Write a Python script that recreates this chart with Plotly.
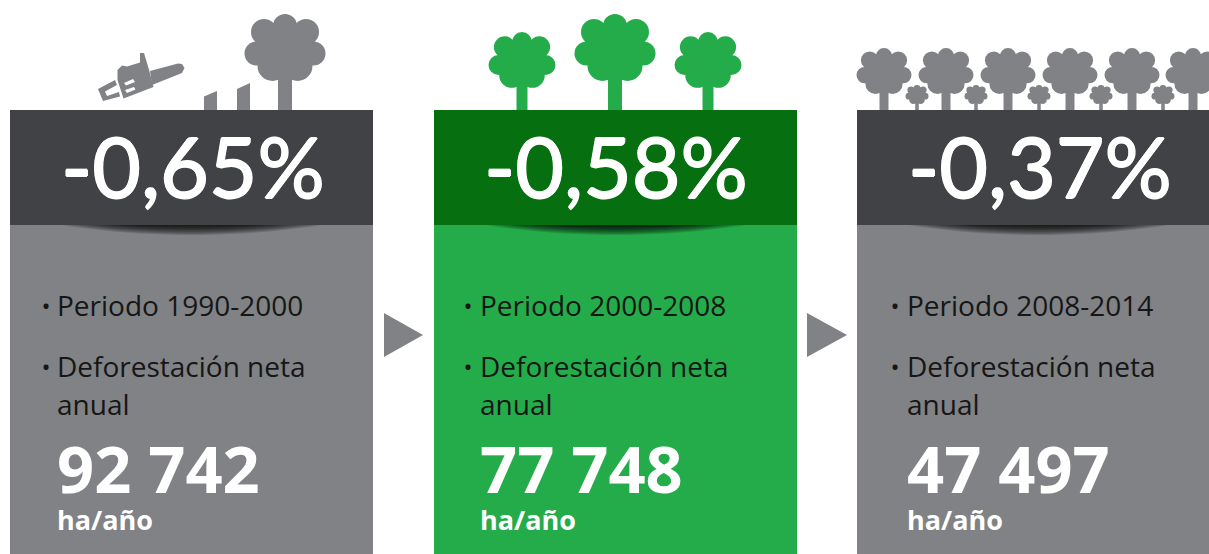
import plotly.graph_objects as go

# ---- data ----
percentages = ["-0,65%", "-0,58%", "-0,37%"]
periods = ["Periodo 1990-2000", "Periodo 2000-2008", "Periodo 2008-2014"]
net_label = ["Deforestación neta", "anual"]
hectares = ["92 742", "77 748", "47 497"]
unit = "ha/año"

# ---- style ----
GRAY = "#808285"
DARK = "#414245"
GREEN = "#25AC4A"
DKGREEN = "#067011"
INK = "#161616"
FONT = "Lato"
BODY = "Open Sans"

panel_left = [10, 434, 857]
panel_right = [373, 797, 1209]
panel_fill = [GRAY, GREEN, GRAY]
head_fill = [DARK, DKGREEN, DARK]
pct_x = [193, 616, 1040]
text_x = [57, 480, 907]
bullet_x = [46, 468, 895]

shapes = []


def rect(x0, y0, x1, y1, color):
    shapes.append(dict(type="rect", x0=x0, y0=y0, x1=x1, y1=y1, fillcolor=color, line_width=0, layer="below"))


def poly(points, color, opacity=1):
    path = "M " + " L ".join(f"{x},{y}" for x, y in points) + " Z"
    shapes.append(dict(type="path", path=path, fillcolor=color, line_width=0, opacity=opacity, layer="below"))


def circle(cx, cy, r, color):
    shapes.append(dict(type="circle", x0=cx - r, x1=cx + r, y0=cy - r, y1=cy + r,
                       fillcolor=color, line_width=0, layer="below"))


# lobes of a tree crown, in units of an 81 px wide, 67 px tall crown
LOBES = [(0, -21.5, 12), (-21, -15.5, 13), (21, -15.5, 13), (-28.5, 6, 12), (28.5, 6, 12),
         (-12.5, 18.5, 15), (12.5, 18.5, 15), (0, 0, 27)]


def tree(cx, top, crown_w, crown_h, trunk_w, base, color):
    s = crown_w / 81
    v = crown_h / 67
    rect(cx - trunk_w / 2, top + crown_h * 0.7, cx + trunk_w / 2, base, color)
    cy = top + crown_h / 2
    for dx, dy, r in LOBES:
        circle(cx + dx * s, cy + dy * v, r * s, color)


# trees, panel 1
tree(285, 14, 81, 67, 14, 110, GRAY)
poly([(204, 96.5), (217, 91), (217, 110), (204, 110)], GRAY)
poly([(237, 89), (250, 83), (250, 110), (237, 110)], GRAY)

# chainsaw
poly([(117.5, 70), (122, 65.5), (127, 66.5), (140, 62.5), (140, 53), (144, 53), (147, 63), (148.5, 68),
      (153.5, 87), (123.5, 98.5), (117.5, 80)], GRAY)
poly([(150, 71), (178, 63.5), (182, 64), (184.5, 68), (182, 73), (152, 85)], GRAY)
poly([(98, 89), (115, 80), (117, 85), (105, 91.5), (107, 96), (119, 92), (120, 96.5), (103, 101)], GRAY)
poly([(124, 83), (133, 79), (135, 82), (126, 85.5)], "#ffffff")
poly([(125, 90), (134, 87), (135.5, 89.5), (127, 93)], "#ffffff")

# trees, panel 2
tree(522, 32, 67, 56, 11, 110, GREEN)
tree(615, 14, 81, 67, 14, 110, GREEN)
tree(708, 32, 67, 56, 11, 110, GREEN)

# trees, panel 3
for cx in [884, 946, 1008, 1070, 1132, 1193]:
    tree(cx, 48, 55, 46, 9, 110, GRAY)
for cx in [917, 976, 1039, 1101, 1163]:
    tree(cx, 85, 23, 19, 3.5, 110, GRAY)

# panels
for i in range(3):
    rect(panel_left[i], 110, panel_right[i], 225, head_fill[i])
    rect(panel_left[i], 225, panel_right[i], 554, panel_fill[i])

# soft shadow below each header
for i in range(3):
    cx = panel_left[i] + 181.5
    steps = 9
    for k in range(steps):
        hw = 130 * (1 - k / steps * 0.55)
        h = 10 * (1 - k / steps)
        pts = [(cx - hw, 225)]
        pts += [(cx + hw * j / 10, 225 + h * (1 - (j / 10) ** 2)) for j in range(-9, 10)]
        pts += [(cx + hw, 225)]
        poly(pts, "#000000", 0.15)

# arrows
poly([(384, 313), (423, 335), (384, 357)], GRAY)
poly([(807, 313), (847, 335), (807, 357)], GRAY)

fig = go.Figure()

BOLDEN = "0.8px 0 0 #fff, -0.8px 0 0 #fff, 0 0.8px 0 #fff, 0 -0.8px 0 #fff"
fig.add_trace(go.Scatter(x=pct_x, y=[177] * 3, mode="text", text=percentages, hoverinfo="skip",
                         textposition="middle center",
                         textfont=dict(family=FONT, size=84, color="#ffffff", shadow=BOLDEN)))
fig.add_trace(go.Scatter(x=text_x, y=[308.5] * 3, mode="text", text=periods, hoverinfo="skip",
                         textposition="middle right",
                         textfont=dict(family=BODY, size=28, color=INK)))
fig.add_trace(go.Scatter(x=text_x, y=[369.5] * 3, mode="text", text=[net_label[0]] * 3, hoverinfo="skip",
                         textposition="middle right",
                         textfont=dict(family=BODY, size=28, color=INK)))
fig.add_trace(go.Scatter(x=text_x, y=[407.5] * 3, mode="text", text=[net_label[1]] * 3, hoverinfo="skip",
                         textposition="middle right",
                         textfont=dict(family=BODY, size=28, color=INK)))
fig.add_trace(go.Scatter(x=bullet_x + bullet_x, y=[309] * 3 + [370] * 3, mode="text", text=["•"] * 6,
                         hoverinfo="skip", textposition="middle center",
                         textfont=dict(family=BODY, size=24, color=INK)))
fig.add_trace(go.Scatter(x=text_x, y=[477] * 3, mode="text", text=hectares, hoverinfo="skip",
                         textposition="middle right",
                         textfont=dict(family=BODY, size=65, color="#ffffff", weight="bold")))
fig.add_trace(go.Scatter(x=text_x, y=[523] * 3, mode="text", text=[unit] * 3, hoverinfo="skip",
                         textposition="middle right",
                         textfont=dict(family=BODY, size=27, color="#ffffff", weight="bold")))

fig.update_layout(
    width=1209, height=554, margin=dict(l=0, r=0, t=0, b=0), autosize=False,
    paper_bgcolor="#ffffff", plot_bgcolor="#ffffff", showlegend=False, shapes=shapes,
    xaxis=dict(range=[0, 1209], visible=False, fixedrange=True),
    yaxis=dict(range=[554, 0], visible=False, fixedrange=True),
)
fig.write_html("out.html", config={"displayModeBar": False},
               post_script="document.body.style.margin='0';")
